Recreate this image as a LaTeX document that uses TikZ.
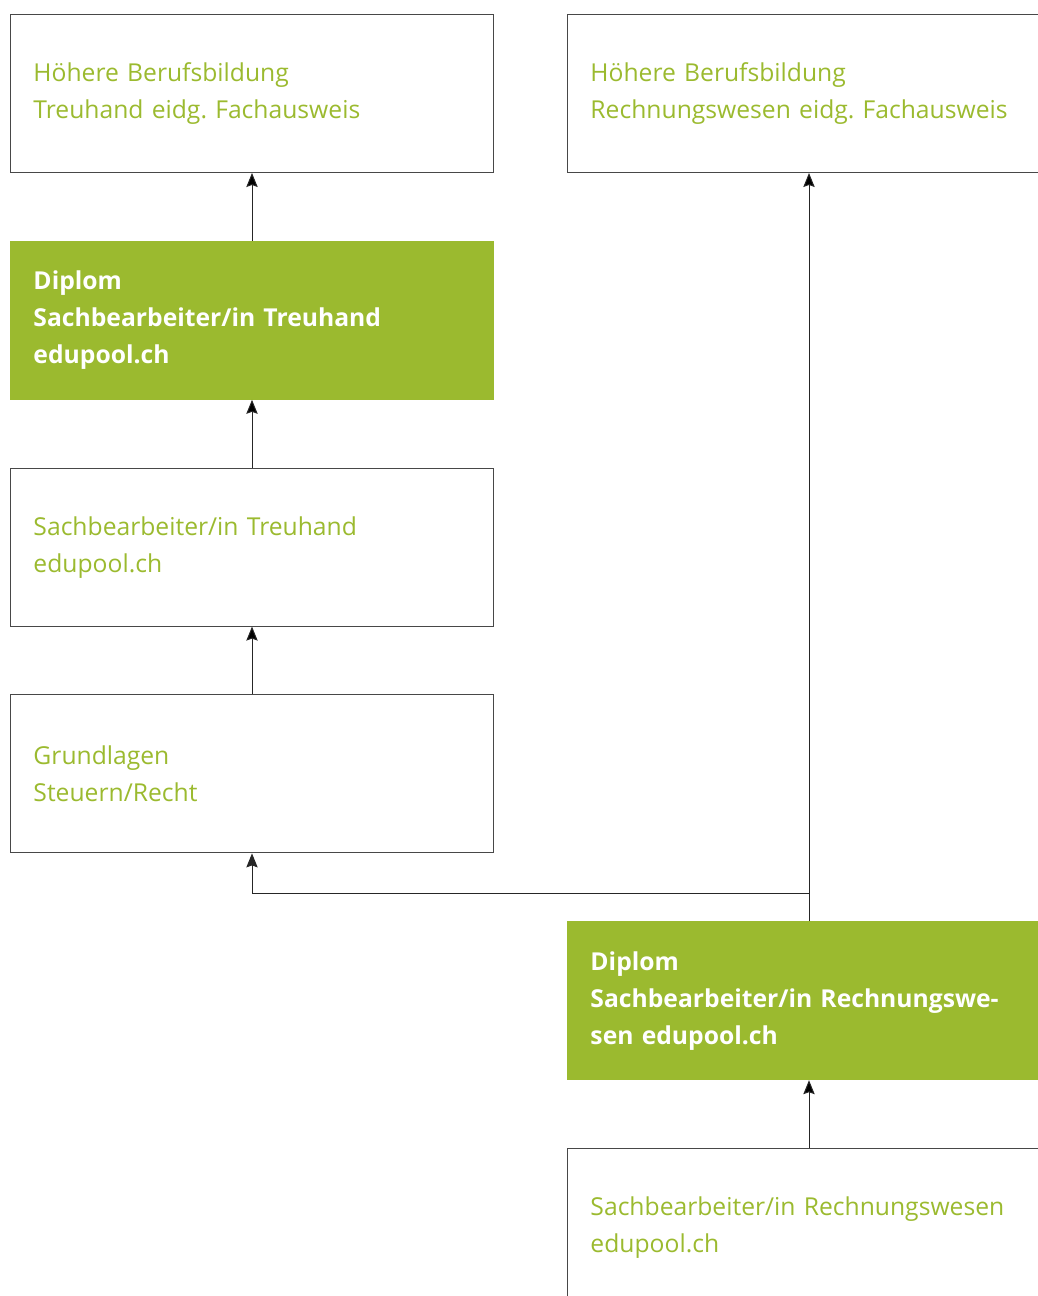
\documentclass[tikz,border=0pt]{standalone}
\usepackage{fontspec}
\setmainfont{Open Sans}
\usetikzlibrary{matrix,arrows.meta}
\definecolor{edugreen}{RGB}{155,186,47}
\definecolor{framegray}{RGB}{72,72,72}
\tikzset{
  stufe/.style={draw=framegray,line width=0.75pt,minimum width=362.25pt,minimum height=118.5pt,
    text width=327.75pt,inner xsep=17.25pt,align=left,text=edugreen,
    font=\fontsize{18.5}{27.75}\selectfont\frenchspacing},
  diplom/.style={stufe,draw=edugreen,fill=edugreen,text=white,
    font=\fontsize{18.5}{27.75}\selectfont\bfseries},
  pfeil/.style={-{Stealth[length=10.5pt,width=8.5pt,inset=1.5pt]},line width=0.75pt,draw=black!85}
}

\begin{document}
\begin{tikzpicture}
  \useasboundingbox (0pt,0pt) rectangle (778.5pt,-972pt);
  \clip (0pt,0pt) rectangle (778.5pt,-972pt);
  \matrix (m) [matrix of nodes,row sep=50.85pt,column sep=54.75pt,nodes={stufe},
    matrix anchor=m-1-1.north west] at (7.5pt,-10.5pt)
  {   {Höhere Berufsbildung\\Treuhand eidg. Fachausweis} &
      {Höhere Berufsbildung\\Rechnungswesen eidg. Fachausweis} \\
      |[diplom]| {Diplom\\Sachbearbeiter/in Treuhand\\edupool.ch} & \\
      {Sachbearbeiter/in Treuhand\\edupool.ch} & \\
      {Grundlagen\\Steuern/Recht} & \\
      & |[diplom]| {Diplom\\Sachbearbeiter/in Rechnungswe-\\sen edupool.ch} \\
      & {Sachbearbeiter/in Rechnungswesen\\edupool.ch} \\};
  \path[pfeil]
    (m-2-1) edge (m-1-1)
    (m-3-1) edge (m-2-1)
    (m-4-1) edge (m-3-1)
    (m-5-2) edge (m-1-2)
    (m-6-2) edge (m-5-2);
  \draw[pfeil] (m-5-2.north) -- ++(0,21pt) -| (m-4-1.south);
\end{tikzpicture}
\end{document}
